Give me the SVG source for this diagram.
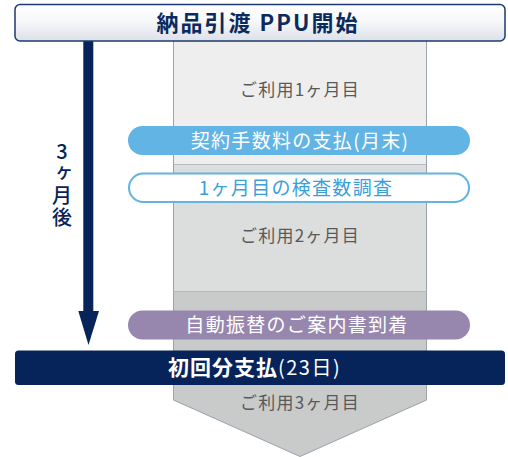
<svg xmlns="http://www.w3.org/2000/svg" width="508" height="457" viewBox="0 0 508 457">
<defs>
<linearGradient id="hdr" x1="0" y1="0" x2="0" y2="1">
<stop offset="0" stop-color="#ffffff"/>
<stop offset="0.45" stop-color="#f7f8fa"/>
<stop offset="1" stop-color="#dce1e8"/>
</linearGradient>
</defs>
<style>
text{font-family:"Noto Sans CJK JP","Noto Sans",sans-serif;}
.lbl{font-size:17px;fill:#595959;text-anchor:middle;letter-spacing:1.2px;}
.pill{font-size:19px;text-anchor:middle;letter-spacing:1.3px;}
.wt{fill:#ffffff;}
.vt{font-size:20px;fill:#06245a;font-weight:500;writing-mode:vertical-rl;text-orientation:upright;letter-spacing:2px;}
</style>

<g id="column">
<path d="M173,41 H427 V400 L300,456.5 L173,400 Z" fill="#c9caca"/>
<rect x="173" y="41" width="254" height="123" fill="#eeeeee"/>
<rect x="173" y="164" width="254" height="127" fill="#dcdddd"/>
<line x1="173" y1="164.5" x2="427" y2="164.5" stroke="#b4bcc3" stroke-width="1"/>
<line x1="173" y1="291.5" x2="427" y2="291.5" stroke="#b4bcc3" stroke-width="1"/>
<path d="M173.5,41 V400 L300,456.5 L426.5,400 V41" fill="none" stroke="#98a4ae" stroke-width="1"/>
</g>

<g id="month1"><text class="lbl" x="300" y="96">ご利用1ヶ月目</text></g>
<g id="month2"><text class="lbl" x="300" y="242">ご利用2ヶ月目</text></g>
<g id="month3"><text class="lbl" x="300" y="409">ご利用3ヶ月目</text></g>

<g id="connectors">
<rect x="83.3" y="41" width="10" height="271" fill="#06245a"/>
<path d="M78.3,311 H99 L88.5,345 Z" fill="#06245a"/>
</g>

<g id="header">
<rect x="15" y="4.5" width="490" height="36.5" rx="5" fill="url(#hdr)" stroke="#1d3a6e" stroke-width="1.5"/>
<text x="258" y="30.5" font-size="22" font-weight="700" fill="#0b2a5e" text-anchor="middle" letter-spacing="2">納品引渡 PPU開始</text>
</g>

<g id="after3">
<text class="vt" x="62" y="141">3ヶ月後</text>
</g>

<g id="fee">
<rect x="128" y="126" width="342" height="29" rx="14.5" fill="#62b4e4"/>
<text class="pill wt" x="300" y="147.5">契約手数料の支払(月末)</text>
</g>

<g id="survey">
<rect x="129" y="173.5" width="340" height="28.5" rx="14.25" fill="#ffffff" stroke="#62b4e4" stroke-width="2"/>
<text class="pill" x="296" y="194.5" fill="#3aa0dc">1ヶ月目の検査数調査</text>
</g>

<g id="notice">
<rect x="128" y="310.5" width="342" height="29" rx="14.5" fill="#9787ae"/>
<text class="pill wt" x="297" y="332">自動振替のご案内書到着</text>
</g>

<g id="firstpay">
<rect x="15" y="350.5" width="490" height="34.5" rx="3.5" fill="#06245a"/>
<text x="168" y="375" fill="#ffffff" font-size="21"><tspan font-weight="700" letter-spacing="1">初回分支払</tspan><tspan font-size="20" font-weight="400" letter-spacing="1.5">(23日)</tspan></text>
</g>
</svg>
